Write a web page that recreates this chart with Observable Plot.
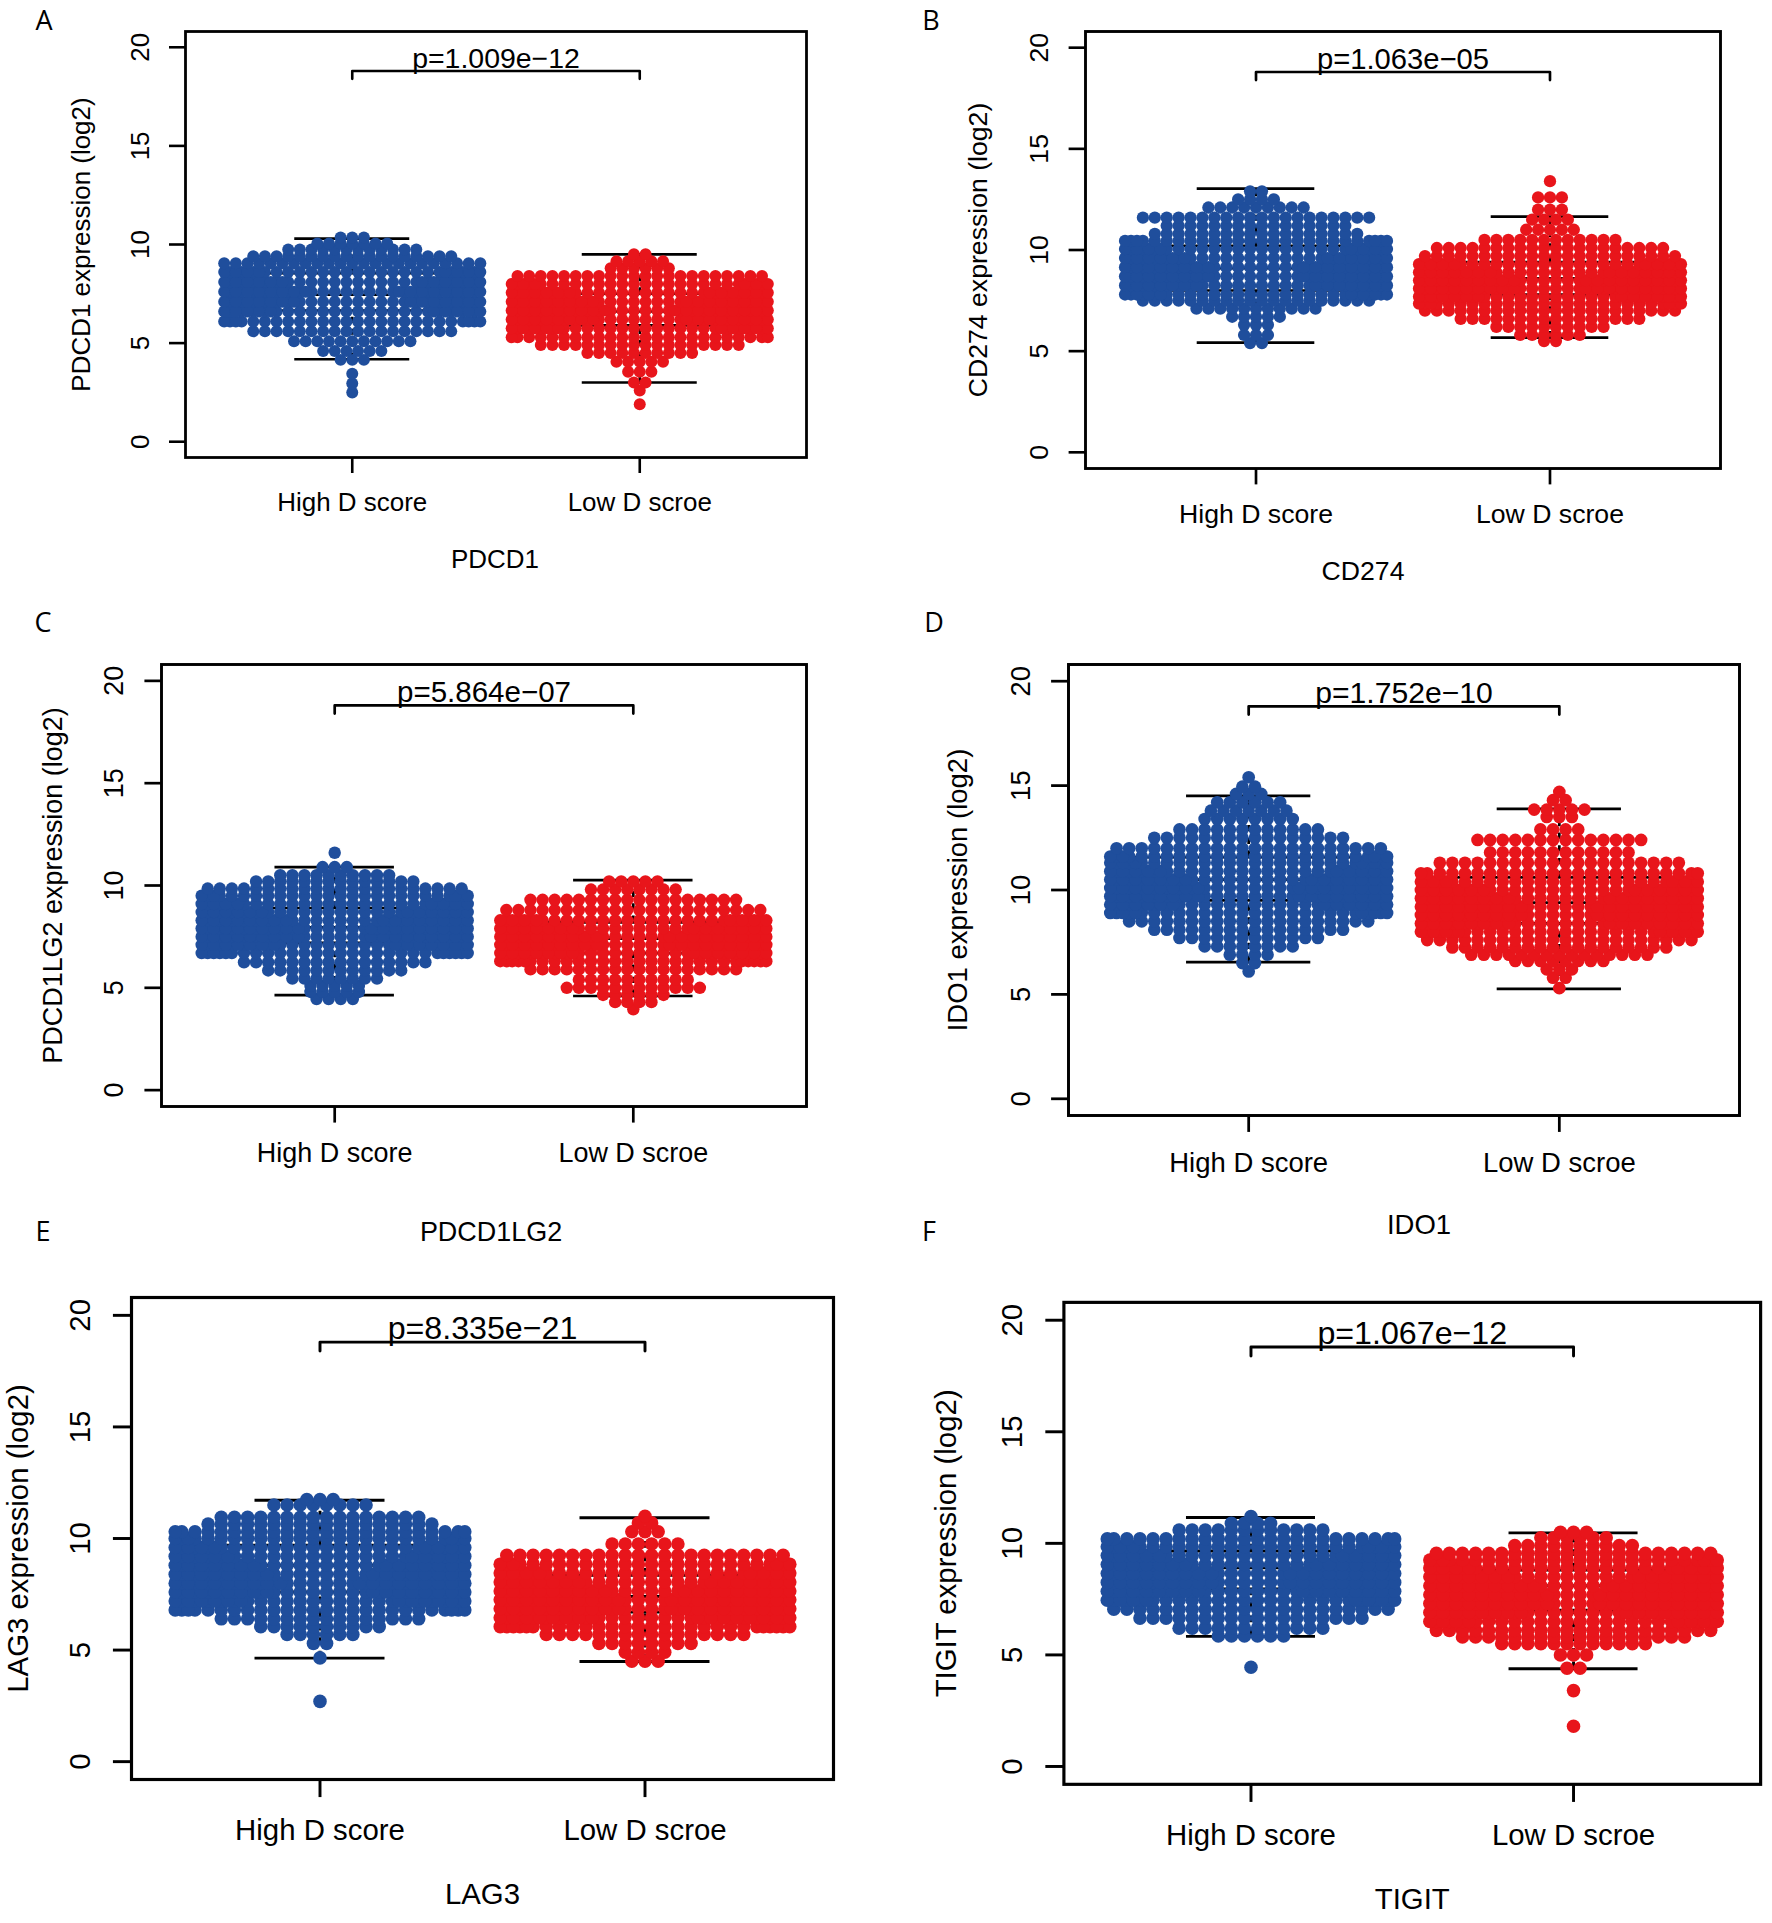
<!DOCTYPE html>
<html><head><meta charset="utf-8">
<script src="https://cdn.jsdelivr.net/npm/d3@7"></script>
<script src="https://cdn.jsdelivr.net/npm/@observablehq/plot@0.6"></script>
<style>
body{margin:0;background:#fff}
#root{position:relative;width:1772px;height:1923px;overflow:hidden;background:#fff}
.panel{position:absolute}
.letter{position:absolute;font-family:"Open Sans","Noto Sans",sans-serif;font-size:27px;color:#000;transform:translate(-50%,-50%);line-height:1.1}
</style>
</head><body><div id="root"></div>
<script>
// ---------- data ----------
const groups = ["High D score", "Low D scroe"];
const yTicks = [0, 5, 10, 15, 20];
const genes = ["PDCD1", "CD274", "PDCD1LG2", "IDO1", "LAG3", "TIGIT"];
const yTitles = ["PDCD1 expression (log2)", "CD274 expression (log2)", "PDCD1LG2 expression (log2)",
                 "IDO1 expression (log2)", "LAG3 expression (log2)", "TIGIT expression (log2)"];
const pValues = ["p=1.009e\u221212", "p=1.063e\u221205", "p=5.864e\u221207",
                 "p=1.752e\u221210", "p=8.335e\u221221", "p=1.067e\u221212"];
const letters = ["A", "B", "C", "D", "E", "F"];

// beeswarm rows: y value of each row and number of points in it
const PDCD1_high_y = [2.5, 2.95, 3.45, 4.15, 4.6, 5.1, 5.6, 6.1, 6.6, 7.1, 7.6, 8.1, 8.6, 9.05, 9.4, 9.75, 10.05, 10.35];
const PDCD1_high_n = [1, 1, 1, 3, 6, 11, 18, 26, 32, 36, 38, 34, 30, 23, 18, 12, 7, 3];
const PDCD1_low_y = [1.9, 2.6, 3.0, 3.55, 4.05, 4.5, 4.9, 5.3, 5.75, 6.2, 6.65, 7.1, 7.55, 8.0, 8.4, 8.8, 9.15, 9.5];
const PDCD1_low_n = [1, 1, 2, 3, 5, 10, 18, 24, 32, 38, 40, 38, 34, 28, 22, 6, 5, 2];

const CD274_high_y = [5.4, 5.8, 6.3, 6.7, 7.1, 7.5, 7.8, 8.25, 8.7, 9.15, 9.6, 10.05, 10.45, 10.8, 11.2, 11.6, 12.1, 12.5, 12.9];
const CD274_high_n = [2, 3, 3, 5, 11, 20, 30, 36, 38, 38, 34, 30, 26, 18, 16, 20, 9, 4, 2];
const CD274_low_y = [5.5, 5.8, 6.2, 6.6, 7.0, 7.35, 7.7, 8.1, 8.5, 8.9, 9.3, 9.7, 10.1, 10.5, 11.0, 11.5, 12.0, 12.6, 13.4];
const CD274_low_n = [2, 6, 10, 16, 22, 26, 34, 40, 40, 36, 30, 22, 20, 12, 5, 4, 3, 3, 1];

const PDCD1LG2_high_y = [4.45, 4.8, 5.1, 5.45, 5.85, 6.25, 6.7, 7.1, 7.5, 7.9, 8.3, 8.7, 9.1, 9.5, 9.85, 10.2, 10.5, 10.9, 11.6];
const PDCD1LG2_high_n = [4, 5, 5, 8, 12, 16, 28, 36, 40, 40, 38, 34, 30, 26, 22, 14, 10, 3, 1];
const PDCD1LG2_low_y = [3.95, 4.3, 4.65, 5.0, 5.4, 5.9, 6.3, 6.7, 7.1, 7.5, 7.9, 8.3, 8.8, 9.3, 9.8, 10.2];
const PDCD1LG2_low_n = [1, 4, 6, 12, 10, 18, 28, 36, 40, 40, 36, 30, 22, 18, 8, 5];

const IDO1_high_y = [6.1, 6.5, 6.9, 7.3, 7.7, 8.1, 8.5, 8.9, 9.3, 9.7, 10.1, 10.5, 10.9, 11.3, 11.6, 12.0, 12.5, 12.9, 13.4, 13.8, 14.2, 14.6, 14.95, 15.4];
const IDO1_high_n = [1, 2, 4, 8, 12, 16, 20, 28, 34, 38, 38, 36, 32, 28, 26, 22, 16, 12, 8, 7, 6, 3, 2, 1];
const IDO1_low_y = [5.3, 5.8, 6.2, 6.6, 6.9, 7.25, 7.6, 8.0, 8.4, 8.8, 9.2, 9.6, 10.0, 10.4, 10.8, 11.3, 11.8, 12.4, 12.9, 13.5, 13.85, 14.3, 14.7];
const IDO1_low_n = [1, 2, 3, 8, 15, 18, 22, 30, 38, 40, 40, 38, 34, 28, 24, 20, 12, 14, 4, 3, 5, 2, 1];

const LAG3_high_y = [2.7, 4.65, 5.3, 5.7, 6.05, 6.4, 6.8, 7.2, 7.6, 8.0, 8.4, 8.8, 9.2, 9.6, 10.0, 10.3, 10.65, 10.95, 11.5, 11.75];
const LAG3_high_n = [1, 1, 2, 6, 10, 16, 26, 34, 38, 40, 38, 36, 32, 30, 26, 24, 18, 16, 8, 3];
const LAG3_low_y = [4.5, 4.9, 5.3, 5.7, 6.05, 6.45, 6.85, 7.25, 7.65, 8.05, 8.45, 8.85, 9.25, 9.75, 10.3, 10.7, 11.0];
const LAG3_low_n = [3, 4, 8, 16, 28, 38, 42, 42, 40, 36, 30, 26, 22, 6, 3, 2, 1];

const TIGIT_high_y = [4.45, 5.85, 6.2, 6.65, 7.05, 7.45, 7.85, 8.25, 8.65, 9.05, 9.45, 9.85, 10.2, 10.6, 10.9, 11.2];
const TIGIT_high_n = [1, 6, 12, 18, 22, 30, 38, 40, 40, 36, 32, 28, 24, 12, 4, 1];
const TIGIT_low_y = [1.8, 3.4, 4.4, 5.0, 5.5, 5.8, 6.1, 6.5, 6.9, 7.3, 7.7, 8.1, 8.5, 8.9, 9.25, 9.55, 9.9, 10.25, 10.5];
const TIGIT_low_n = [1, 1, 2, 3, 12, 18, 22, 30, 38, 42, 42, 40, 36, 30, 26, 22, 10, 6, 3];

// box statistics: [lower whisker, Q1, median, Q3, upper whisker]
const PDCD1_box = [[4.18, 6.65, 7.45, 8.55, 10.3], [3.0, 5.9, 6.6, 7.5, 9.5]];
const CD274_box = [[5.42, 8.0, 9.1, 10.2, 13.03], [5.67, 7.8, 8.6, 9.4, 11.65]];
const PDCD1LG2_box = [[4.64, 7.2, 7.95, 8.9, 10.9], [4.6, 6.7, 7.4, 8.2, 10.26]];
const IDO1_box = [[6.54, 9.5, 10.5, 11.57, 14.51], [5.26, 8.4, 9.4, 10.6, 13.89]];
const LAG3_box = [[4.64, 7.6, 8.8, 9.7, 11.71], [4.49, 6.7, 7.4, 8.35, 10.93]];
const TIGIT_box = [[5.83, 7.96, 8.9, 9.66, 11.16], [4.38, 7.0, 8.1, 8.8, 10.47]];

// significance bracket level (top, ends)
const bracketLevel = [18.8, 18.4];

// ---------- layout (pixels) ----------
const frames = [ // [left, top, right, bottom] of each plot frame
  [185, 31, 806, 457], [1085, 31, 1720, 468],
  [161, 664, 806, 1106], [1068, 664, 1739, 1115],
  [131, 1297, 833, 1779], [1065, 1302, 1769, 1789]];
const titleOffsets = [[-1, 102], [-40, 103], [7, 126], [15, 110], [0, 115], [0, 116]];
const yTitleDx = [104, 104, 104, 104, 100, 104];
const letterPos = [[44, 20], [931, 20], [43, 622], [934, 622], [43, 1231], [929, 1231]];

const panelRows = [
  [[PDCD1_high_y, PDCD1_high_n], [PDCD1_low_y, PDCD1_low_n]],
  [[CD274_high_y, CD274_high_n], [CD274_low_y, CD274_low_n]],
  [[PDCD1LG2_high_y, PDCD1LG2_high_n], [PDCD1LG2_low_y, PDCD1LG2_low_n]],
  [[IDO1_high_y, IDO1_high_n], [IDO1_low_y, IDO1_low_n]],
  [[LAG3_high_y, LAG3_high_n], [LAG3_low_y, LAG3_low_n]],
  [[TIGIT_high_y, TIGIT_high_n], [TIGIT_low_y, TIGIT_low_n]]];
const panelBoxes = [PDCD1_box, CD274_box, PDCD1LG2_box, IDO1_box, LAG3_box, TIGIT_box];

const colors = ["#1f4e9c", "#e8151b"];
const FONT = "'Liberation Sans', Arial, Helvetica, sans-serif";
const SP = 0.0405, HALF = 11.25, PERIOD = 22.5;

// beeswarm "center" layout with wrap-around corral
function swarm(ys, ns, g) {
  const pts = [];
  ys.forEach((y, r) => {
    const n = ns[r];
    for (let i = 0; i < n; i++) {
      let j;
      if (n % 2) j = i === 0 ? 0 : (i % 2 ? -Math.ceil(i / 2) : Math.ceil(i / 2));
      else j = (i % 2 ? 1 : -1) * (Math.floor(i / 2) + 0.5);
      while (j > HALF) j -= PERIOD;
      while (j < -HALF) j += PERIOD;
      pts.push({x: g + j * SP, y});
    }
  });
  return pts;
}

const root = document.getElementById("root");

frames.forEach((f, p) => {
  const [L, T, R, B] = f;
  const k = (B - T) / 426.5;
  const ml = Math.round(135 * k), mr = 12, mt = 12, mb = 150;
  const width = (R - L) + ml + mr, height = (B - T) + mt + mb;
  const sw = 2.6 * k;
  const dia = 12 * k;

  const boxes = panelBoxes[p].map((s, i) => ({g: i + 1, lo: s[0], q1: s[1], med: s[2], q3: s[3], hi: s[4]}));
  const hLines = boxes.flatMap(b => [b.q1, b.med, b.q3].map(v => ({g: b.g, v})));
  const sides = boxes.flatMap(b => [-0.4, 0.4].map(o => ({x: b.g + o, q1: b.q1, q3: b.q3})));
  const stems = boxes.flatMap(b => [{g: b.g, a: b.q3, b: b.hi}, {g: b.g, a: b.lo, b: b.q1}]);
  const staples = boxes.flatMap(b => [{g: b.g, v: b.lo}, {g: b.g, v: b.hi}]);
  const bracket = [{x: 1, y: bracketLevel[1]}, {x: 1, y: bracketLevel[0]}, {x: 2, y: bracketLevel[0]}, {x: 2, y: bracketLevel[1]}];

  const pts = panelRows[p].map((gr, i) => swarm(gr[0], gr[1], i + 1));

  const chart = Plot.plot({
    width, height, marginLeft: ml, marginRight: mr, marginTop: mt, marginBottom: mb,
    x: {domain: [0.42, 2.58], axis: null},
    y: {domain: [-0.8, 20.8], axis: null},
    style: {fontFamily: FONT, overflow: "visible", background: "transparent", color: "#000"},
    marks: [
      Plot.ruleY(hLines, {y: "v", x1: d => d.g - 0.4, x2: d => d.g + 0.4, stroke: "#000", strokeWidth: sw}),
      Plot.ruleX(sides, {x: "x", y1: "q1", y2: "q3", stroke: "#000", strokeWidth: sw}),
      Plot.ruleX(stems, {x: "g", y1: "a", y2: "b", stroke: "#000", strokeWidth: sw, strokeDasharray: `${6 * k},${6 * k}`}),
      Plot.ruleY(staples, {y: "v", x1: d => d.g - 0.2, x2: d => d.g + 0.2, stroke: "#000", strokeWidth: sw}),
      Plot.dot(pts[0], {x: "x", y: "y", r: dia / 2, fill: colors[0], stroke: "none"}),
      Plot.dot(pts[1], {x: "x", y: "y", r: dia / 2, fill: colors[1], stroke: "none"}),
      Plot.line(bracket, {x: "x", y: "y", stroke: "#000", strokeWidth: sw, curve: "linear"}),
      Plot.text([pValues[p]], {x: 1.5, y: bracketLevel[0], text: d => d, lineAnchor: "bottom", dy: -3 * k, fontSize: 28.5 * k, fill: "#000"}),
      Plot.frame({stroke: "#000", strokeWidth: 2.8 * k}),
      Plot.axisX({ticks: [1, 2], tickSize: 16 * k, tickFormat: () => "", label: null, strokeWidth: sw}),
      Plot.axisY({ticks: yTicks, tickSize: 16 * k, tickFormat: () => "", label: null, strokeWidth: sw, anchor: "left"}),
      Plot.text(groups, {x: (d, i) => i + 1, frameAnchor: "bottom", text: d => d, dy: 45 * k, lineAnchor: "middle", fontSize: 26 * k, fill: "#000"}),
      Plot.text(yTicks, {y: d => d, frameAnchor: "left", text: d => String(d), dx: -45 * k, rotate: -90, textAnchor: "middle", lineAnchor: "middle", fontSize: 26 * k, fill: "#000"}),
      Plot.text([genes[p]], {frameAnchor: "bottom", text: d => d, dx: titleOffsets[p][0], dy: titleOffsets[p][1], lineAnchor: "middle", fontSize: 26 * k, fill: "#000"}),
      Plot.text([yTitles[p]], {frameAnchor: "left", text: d => d, dx: -yTitleDx[p] * k, rotate: -90, textAnchor: "middle", lineAnchor: "middle", fontSize: 26 * k, fill: "#000"})
    ]
  });
  const wrap = document.createElement("div");
  wrap.className = "panel";
  wrap.style.left = (L - ml) + "px";
  wrap.style.top = (T - mt) + "px";
  wrap.appendChild(chart);
  root.appendChild(wrap);

  const lab = document.createElement("div");
  lab.className = "letter";
  lab.textContent = letters[p];
  lab.style.left = letterPos[p][0] + "px";
  lab.style.top = letterPos[p][1] + "px";
  root.appendChild(lab);
});
</script>
</body></html>
